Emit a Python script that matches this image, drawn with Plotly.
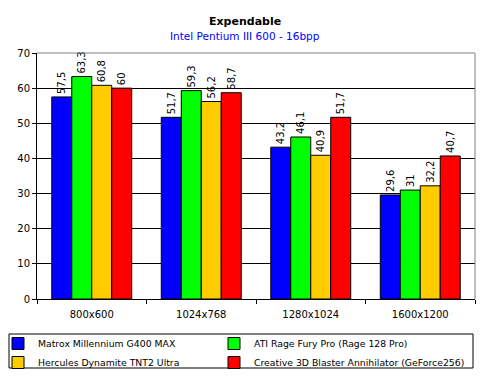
import plotly.graph_objects as go

categories = ["800x600", "1024x768", "1280x1024", "1600x1200"]
series_names = [
    "Matrox Millennium G400 MAX",
    "ATI Rage Fury Pro (Rage 128 Pro)",
    "Hercules Dynamite TNT2 Ultra",
    "Creative 3D Blaster Annihilator (GeForce256)",
]
matrox = [57.5, 51.7, 43.2, 29.6]
ati = [63.3, 59.3, 46.1, 31]
hercules = [60.8, 56.2, 40.9, 32.2]
creative = [60, 58.7, 51.7, 40.7]
colors = ["#0000FF", "#00FF00", "#FFCC00", "#FF0000"]
legend_slots = ["legend", "legend2", "legend", "legend2"]
y_ticks = [0, 10, 20, 30, 40, 50, 60, 70]

FONT = "DejaVu Sans, Verdana, sans-serif"
W, H = 490, 377
PL, PR, PT, PB = 37, 475, 53, 299  # plot area pixel box


def px_x(v):
    return v / W


def px_y(v):
    return 1 - v / H


fig = go.Figure()
for name, vals, col, lg in zip(series_names, [matrox, ati, hercules, creative], colors, legend_slots):
    fig.add_trace(go.Bar(
        name=name, x=categories, y=vals, legend=lg,
        marker=dict(color=col, line=dict(color="black", width=1)),
        text=[str(v).replace(".", ",") for v in vals],
        textposition="outside", textangle=-90, constraintext="none",
        textfont=dict(size=10, color="black", family=FONT),
        cliponaxis=False,
    ))

legend_common = dict(
    orientation="v", xanchor="left", yanchor="top",
    borderwidth=0, bgcolor="rgba(0,0,0,0)",
    font=dict(size=9.3, family=FONT), traceorder="normal", tracegroupgap=0,
)

fig.update_layout(
    width=W, height=H,
    margin=dict(l=0, r=0, t=0, b=0, pad=0, autoexpand=False),
    paper_bgcolor="white", plot_bgcolor="white",
    barmode="group", bargap=0.27, bargroupgap=0,
    font=dict(family=FONT, size=10, color="black"),
    uniformtext=dict(minsize=10, mode="show"),
    showlegend=True,
    legend=dict(x=px_x(-2), y=px_y(329), **legend_common),
    legend2=dict(x=px_x(214), y=px_y(329), **legend_common),
    xaxis=dict(domain=[PL / W, PR / W]),
    yaxis=dict(domain=[1 - PB / H, 1 - PT / H]),
)
fig.add_annotation(text="<b>Expendable</b>", xref="paper", yref="paper", x=0.5, y=px_y(21),
                   yanchor="middle", showarrow=False, font=dict(size=11, family=FONT, color="black"))
fig.add_annotation(text="Intel Pentium III 600 - 16bpp", xref="paper", yref="paper", x=0.5, y=px_y(36),
                   yanchor="middle", showarrow=False, font=dict(size=10.5, family=FONT, color="#0000FF"))

fig.update_yaxes(range=[0, 70], tickvals=y_ticks, showgrid=True, gridcolor="black", gridwidth=1,
                 showline=True, linecolor="black", linewidth=1, ticks="outside", ticklen=4,
                 tickcolor="black", zeroline=False, tickfont=dict(size=10), automargin=False)
fig.update_xaxes(showline=True, linecolor="black", linewidth=1, ticks="outside", ticklen=4,
                 tickson="boundaries", tickcolor="black", tickfont=dict(size=10),
                 ticklabelstandoff=6, automargin=False)
fig.add_shape(type="line", xref="x domain", yref="y domain", x0=0, x1=1, y0=1, y1=1,
              line=dict(color="#808080", width=1), layer="above")
fig.add_shape(type="line", xref="x domain", yref="y domain", x0=1, x1=1, y0=0, y1=1,
              line=dict(color="#808080", width=1), layer="above")
# legend frame
fig.add_shape(type="rect", xref="paper", yref="paper",
              x0=px_x(9), x1=px_x(473), y0=px_y(368), y1=px_y(334),
              line=dict(color="black", width=1), fillcolor="rgba(0,0,0,0)", layer="below")

fig.write_html("out.html", config={"displayModeBar": False},
               post_script="document.body.style.margin='0';")
